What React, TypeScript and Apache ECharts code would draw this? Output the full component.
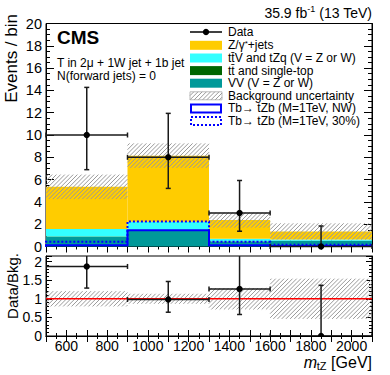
import React, { useEffect, useRef } from "react";
import * as echarts from "echarts";

// ---------------- data ----------------
const binEdges = [500, 900, 1300, 1600, 2100];
const dataCounts = [10, 8, 3, 0];
const dataErrLo = [3.11, 2.79, 1.63, 0];
const dataErrHi = [4.27, 3.94, 2.92, 1.84];
const vvYield = [0.85, 1.45, 0.45, 0.5];
const ttbarYield = [0.05, 0.05, 0.03, 0.02];
const ttvYield = [0.68, 0.73, 0.22, 0.1];
const zjetsYield = [3.77, 5.92, 1.67, 0.73];
const bkgUnc = [1.1, 1.1, 0.68, 0.73];
const sigNW = [0.12, 1.45, 0.12, 0.05];
const sig30 = [0.42, 2.25, 0.42, 0.15];
const xTickLabels = [600, 800, 1000, 1200, 1400, 1600, 1800, 2000];
const ratioTickLabels = ["0", "0.5", "1", "1.5", "2"];
const legendLabels = [
  "Data",
  "{a|Z/γ}{s|*}{a|+jets}",
  "tt\u0304V and tZq (V = Z or W)",
  "tt\u0304 and single-top",
  "VV (V = Z or W)",
  "Background uncertainty",
  "Tb\u2192 tZb (M=1TeV, NW)",
  "Tb\u2192 tZb (M=1TeV, 30%)",
];

const FONT = "Liberation Sans";
const C_VV = "#009999";
const C_TT = "#006600";
const C_TTV = "#33ffff";
const C_Z = "#ffcc00";
const C_SIG = "#0000ff";
const C_HATCH = "#9a9a9a";

function hatchLines(x0: number, y0: number, x1: number, y1: number, step: number, stroke: string) {
  const children: any[] = [];
  const cStart = Math.ceil((x0 + y0) / step) * step;
  for (let c = cStart; c <= x1 + y1; c += step) {
    const xa = Math.max(x0, c - y1);
    const xb = Math.min(x1, c - y0);
    if (xb > xa) {
      children.push({
        type: "line",
        shape: { x1: xa, y1: c - xa, x2: xb, y2: c - xb },
        style: { stroke, lineWidth: 1 },
      });
    }
  }
  return children;
}

function buildOption() {
  const comps = [
    { vals: vvYield, color: C_VV },
    { vals: ttbarYield, color: C_TT },
    { vals: ttvYield, color: C_TTV },
    { vals: zjetsYield, color: C_Z },
  ];
  const cum = [0, 0, 0, 0];
  const stackSeries = comps.map((c) => {
    const data = c.vals.map((v, i) => {
      const d = [binEdges[i], binEdges[i + 1], cum[i], cum[i] + v];
      cum[i] += v;
      return d;
    });
    return {
      type: "custom",
      xAxisIndex: 0,
      yAxisIndex: 0,
      z: 2,
      silent: true,
      data,
      encode: { x: [0, 1], y: [2, 3] },
      renderItem: (_p: any, api: any) => {
        const a = api.coord([api.value(0), api.value(3)]);
        const b = api.coord([api.value(1), api.value(2)]);
        return {
          type: "rect",
          shape: { x: a[0], y: a[1], width: b[0] - a[0], height: b[1] - a[1] },
          style: { fill: c.color },
        };
      },
    };
  });
  const bkgTotal = cum.slice();

  const hatchSeries = (xi: number, data: number[][]) => ({
    type: "custom",
    xAxisIndex: xi,
    yAxisIndex: xi,
    z: 3,
    silent: true,
    clip: true,
    data,
    encode: { x: [0, 1], y: [2, 3] },
    renderItem: (_p: any, api: any) => {
      const a = api.coord([api.value(0), api.value(3)]);
      const b = api.coord([api.value(1), api.value(2)]);
      return { type: "group", children: hatchLines(a[0], a[1], b[0], b[1], 4.2, C_HATCH) };
    },
  });

  const mainHatch = hatchSeries(
    0,
    bkgTotal.map((b, i) => [binEdges[i], binEdges[i + 1], b - bkgUnc[i], b + bkgUnc[i]])
  );
  const ratioHatch = hatchSeries(
    2,
    bkgTotal.map((b, i) => [binEdges[i], binEdges[i + 1], 1 - bkgUnc[i] / b, 1 + bkgUnc[i] / b])
  );

  const stepSeries = (vals: number[], dash: any) => ({
    type: "custom",
    xAxisIndex: 0,
    yAxisIndex: 0,
    z: 4,
    silent: true,
    data: [[1000, 1]],
    renderItem: (_p: any, api: any) => {
      const pts: number[][] = [];
      pts.push(api.coord([binEdges[0], 0]));
      vals.forEach((v, i) => {
        pts.push(api.coord([binEdges[i], v]));
        pts.push(api.coord([binEdges[i + 1], v]));
      });
      pts.push(api.coord([binEdges[binEdges.length - 1], 0]));
      return {
        type: "polyline",
        shape: { points: pts },
        style: { stroke: C_SIG, lineWidth: 2, fill: null, lineDash: dash },
      };
    },
  });

  const errSeries = (xi: number, data: number[][], clip: boolean) => ({
    type: "custom",
    xAxisIndex: xi,
    yAxisIndex: xi,
    z: 6,
    silent: true,
    clip,
    data,
    encode: { x: [0, 2, 3], y: [1, 4, 5] },
    renderItem: (_p: any, api: any) => {
      const xc = api.value(0), y = api.value(1), x0 = api.value(2), x1 = api.value(3);
      const ylo = api.value(4), yhi = api.value(5);
      const pc = api.coord([xc, y]);
      const p0 = api.coord([x0, y]);
      const p1 = api.coord([x1, y]);
      const plo = api.coord([xc, ylo]);
      const phi = api.coord([xc, yhi]);
      const st = { stroke: "#1a1a1a", lineWidth: 1.5 };
      const ch: any[] = [
        { type: "line", shape: { x1: p0[0], y1: p0[1], x2: p1[0], y2: p1[1] }, style: st },
        { type: "line", shape: { x1: p0[0], y1: p0[1] - 2.5, x2: p0[0], y2: p0[1] + 2.5 }, style: st },
        { type: "line", shape: { x1: p1[0], y1: p1[1] - 2.5, x2: p1[0], y2: p1[1] + 2.5 }, style: st },
        { type: "line", shape: { x1: phi[0], y1: phi[1], x2: plo[0], y2: plo[1] }, style: st },
        { type: "line", shape: { x1: phi[0] - 2.5, y1: phi[1], x2: phi[0] + 2.5, y2: phi[1] }, style: st },
      ];
      if (ylo < y) {
        ch.push({ type: "line", shape: { x1: plo[0] - 2.5, y1: plo[1], x2: plo[0] + 2.5, y2: plo[1] }, style: st });
      }
      ch.push({ type: "circle", shape: { cx: pc[0], cy: pc[1], r: 3.2 }, style: { fill: "#000" } });
      return { type: "group", children: ch };
    },
  });

  const centers = dataCounts.map((_, i) => (binEdges[i] + binEdges[i + 1]) / 2);
  const mainData = dataCounts.map((d, i) => [
    centers[i], d, binEdges[i], binEdges[i + 1], d - dataErrLo[i], d + dataErrHi[i],
  ]);
  const ratioData = dataCounts.map((d, i) => [
    centers[i], d / bkgTotal[i], binEdges[i], binEdges[i + 1],
    (d - dataErrLo[i]) / bkgTotal[i], (d + dataErrHi[i]) / bkgTotal[i],
  ]);

  const redLine = {
    type: "custom",
    xAxisIndex: 2,
    yAxisIndex: 2,
    z: 5,
    silent: true,
    data: [[1000, 1]],
    renderItem: (_p: any, api: any) => {
      const a = api.coord([binEdges[0], 1]);
      const b = api.coord([binEdges[binEdges.length - 1], 1]);
      return {
        type: "line",
        shape: { x1: a[0], y1: a[1], x2: b[0], y2: b[1] },
        style: { stroke: "#ff0000", lineWidth: 1.5 },
      };
    },
  };

  const black = { color: "#000" };
  const xAxisBase = (gridIndex: number, position: string, labels: boolean, tickLen: number) => ({
    type: "value",
    gridIndex,
    position,
    min: 500,
    max: 2100,
    interval: 100,
    axisLine: { show: true, lineStyle: { color: "#000", width: 1 } },
    axisTick: { show: true, inside: true, length: tickLen, lineStyle: black },
    minorTick: { show: true, splitNumber: 2, length: tickLen / 2, lineStyle: black },
    splitLine: { show: false },
    axisLabel: labels
      ? {
          show: true,
          margin: 3,
          color: "#000",
          fontFamily: FONT,
          fontSize: 14,
          lineHeight: 14,
          formatter: (v: number) => (xTickLabels.includes(Math.round(v)) ? String(Math.round(v)) : ""),
        }
      : { show: false },
  });

  const yMain = (position: string, labels: boolean) => ({
    type: "value",
    gridIndex: 0,
    position,
    min: 0,
    max: 20,
    interval: 2,
    axisLine: { show: true, lineStyle: { color: "#000", width: 1 } },
    axisTick: { show: true, inside: true, length: 8, lineStyle: black },
    minorTick: { show: true, splitNumber: 4, length: 4, lineStyle: black },
    splitLine: { show: false },
    axisLabel: labels
      ? { show: true, margin: 4, color: "#000", fontFamily: FONT, fontSize: 14.5, lineHeight: 12 }
      : { show: false },
  });

  const yRatio = (position: string, labels: boolean) => ({
    type: "value",
    gridIndex: 1,
    position,
    min: 0,
    max: 2.15,
    interval: 0.5,
    axisLine: { show: true, lineStyle: { color: "#000", width: 1 } },
    axisTick: { show: true, inside: true, length: 6, lineStyle: black },
    minorTick: { show: true, splitNumber: 5, length: 3, lineStyle: black },
    splitLine: { show: false },
    axisLabel: labels
      ? {
          show: true,
          margin: 4,
          color: "#000",
          fontFamily: FONT,
          fontSize: 14,
          lineHeight: 12,
          formatter: (v: number) => {
            const s = String(+v.toFixed(2));
            return ratioTickLabels.includes(s) ? s : "";
          },
        }
      : { show: false },
  });

  // legend graphics
  const lx0 = 190, lx1 = 222, ltx = 228;
  const ly = [32, 45.3, 58, 70.6, 83.2, 95.8, 108.4, 121];
  const g: any[] = [];
  g.push({ type: "line", shape: { x1: lx0, y1: ly[0], x2: lx1, y2: ly[0] }, style: { stroke: "#000", lineWidth: 1.5 } });
  g.push({ type: "circle", shape: { cx: (lx0 + lx1) / 2, cy: ly[0], r: 3.2 }, style: { fill: "#000" } });
  const fills = [C_Z, C_TTV, C_TT, C_VV];
  fills.forEach((f, k) => {
    g.push({ type: "rect", shape: { x: lx0, y: ly[k + 1] - 4.5, width: lx1 - lx0, height: 9 }, style: { fill: f } });
  });
  g.push({ type: "rect", shape: { x: lx0, y: ly[5] - 4, width: lx1 - lx0, height: 8 }, style: { fill: "#fff", stroke: "#bbb", lineWidth: 1 } });
  hatchLines(lx0, ly[5] - 4, lx1, ly[5] + 4, 4.2, C_HATCH).forEach((e) => g.push(e));
  g.push({ type: "rect", shape: { x: lx0 + 1, y: ly[6] - 4, width: lx1 - lx0 - 2, height: 8 }, style: { fill: "#fff", stroke: C_SIG, lineWidth: 2 } });
  g.push({ type: "rect", shape: { x: lx0 + 1, y: ly[7] - 4, width: lx1 - lx0 - 2, height: 8 }, style: { fill: "#fff", stroke: C_SIG, lineWidth: 2, lineDash: [2, 2] } });
  legendLabels.forEach((t, k) => {
    g.push({
      type: "text",
      x: ltx,
      y: ly[k],
      style: {
        text: t,
        fill: "#000",
        fontFamily: FONT,
        fontSize: 12,
        lineHeight: 12,
        verticalAlign: "middle",
        rich: {
          a: { fontFamily: FONT, fontSize: 12, lineHeight: 12, verticalAlign: "bottom" },
          s: { fontFamily: FONT, fontSize: 8, lineHeight: 12, verticalAlign: "top", padding: [0, 0, 3, 0] },
        },
      },
    });
  });

  // other texts
  g.push({
    type: "text",
    x: 372,
    y: 12,
    style: {
      text: "{a|35.9 fb}{s|-1}{a| (13 TeV)}",
      align: "right",
      verticalAlign: "middle",
      fill: "#000",
      rich: {
        a: { fontFamily: FONT, fontSize: 14, lineHeight: 16, verticalAlign: "bottom" },
        s: { fontFamily: FONT, fontSize: 9, lineHeight: 16, verticalAlign: "top", padding: [0, 0, 6, 0] },
      },
    },
  });
  g.push({ type: "text", x: 57, y: 37, style: { text: "CMS", fontFamily: FONT, fontSize: 19, fontWeight: "bold", fill: "#000", verticalAlign: "middle" } });
  g.push({ type: "text", x: 57, y: 63, style: { text: "T in 2μ + 1W jet + 1b jet", fontFamily: FONT, fontSize: 12, fill: "#000", verticalAlign: "middle" } });
  g.push({ type: "text", x: 57, y: 76, style: { text: "N(forward jets) = 0", fontFamily: FONT, fontSize: 12, fill: "#000", verticalAlign: "middle" } });
  g.push({ type: "text", x: 11.5, y: 14, rotation: Math.PI / 2, style: { text: "Events / bin", fontFamily: FONT, fontSize: 17, fill: "#000", align: "right", verticalAlign: "middle" } });
  g.push({ type: "text", x: 12, y: 253, rotation: Math.PI / 2, style: { text: "Data/Bkg.", fontFamily: FONT, fontSize: 15, fill: "#000", align: "right", verticalAlign: "middle" } });
  // x-axis title: m_{tZ} [GeV]
  g.push({ type: "text", x: 372, y: 362, style: { text: " [GeV]", fontFamily: FONT, fontSize: 16, fill: "#000", align: "right", verticalAlign: "middle" } });
  g.push({ type: "text", x: 326.5, y: 366, style: { text: "tZ", fontFamily: FONT, fontSize: 11, fill: "#000", align: "right", verticalAlign: "middle" } });
  g.push({ type: "text", x: 317, y: 362, style: { text: "m", fontFamily: FONT, fontSize: 16, fontStyle: "italic", fill: "#000", align: "right", verticalAlign: "middle" } });

  return {
    animation: false,
    backgroundColor: "#fff",
    textStyle: { fontFamily: FONT },
    grid: [
      { left: 46, right: 18, top: 23.5, height: 223, show: true, borderColor: "#000", borderWidth: 1, backgroundColor: "transparent" },
      { left: 46, right: 18, top: 256, height: 80, show: true, borderColor: "#000", borderWidth: 1, backgroundColor: "transparent" },
    ],
    xAxis: [
      xAxisBase(0, "bottom", false, 6),
      xAxisBase(0, "top", false, 6),
      xAxisBase(1, "bottom", true, 6),
      xAxisBase(1, "top", false, 6),
    ],
    yAxis: [yMain("left", true), yMain("right", false), yRatio("left", true), yRatio("right", false)],
    graphic: { elements: g },
    series: [
      ...stackSeries,
      mainHatch,
      stepSeries(sigNW, null),
      stepSeries(sig30, [2, 2]),
      errSeries(0, mainData, false),
      ratioHatch,
      redLine,
      errSeries(2, ratioData, true),
    ],
  };
}

export default function App() {
  const ref = useRef<HTMLDivElement>(null);
  useEffect(() => {
    const chart = echarts.init(ref.current as HTMLDivElement, null, { renderer: "svg", width: 390, height: 375 });
    chart.setOption(buildOption() as any);
    return () => chart.dispose();
  }, []);
  return (
    <div
      ref={ref}
      style={{ position: "fixed", left: 0, top: 0, width: 390, height: 375, background: "#fff" }}
    />
  );
}
